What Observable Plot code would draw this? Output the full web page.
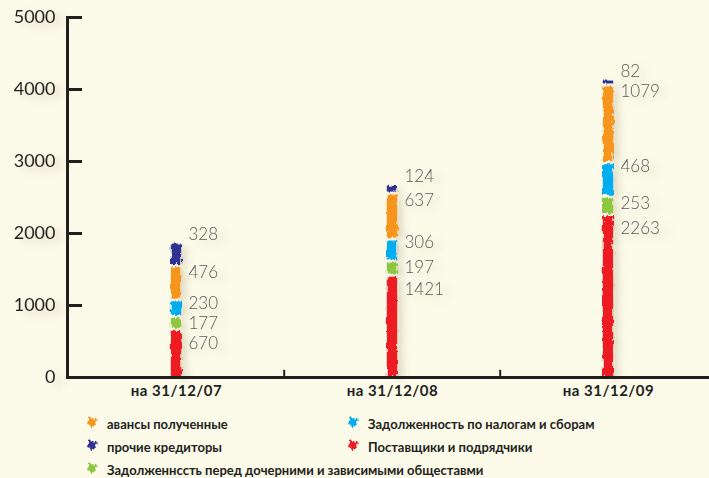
<!DOCTYPE html>
<html><head><meta charset="utf-8">
<script src="https://cdn.jsdelivr.net/npm/d3@7"></script>
<script src="https://cdn.jsdelivr.net/npm/@observablehq/plot@0.6"></script>
<style>
html,body{margin:0;padding:0;background:#fcfae9;}
#wrap{position:relative;width:709px;height:478px;overflow:hidden;font-family:Lato,"Open Sans",sans-serif;background:#fcfae9;}
#chart svg{display:block;overflow:hidden;}
#chart g[aria-label="bar"]{filter:url(#brush) drop-shadow(6px 3px 3px rgba(120,110,70,.35));}
#chart g[aria-label="text"], #chart g[aria-label="y-axis tick label"]{filter:drop-shadow(8px 4px 4px rgba(120,110,70,.28));}
#chart g[aria-label="x-axis tick label"] text{letter-spacing:0.5px;}
#legend{position:absolute;left:86px;top:412px;display:grid;grid-template-columns:261px 261px;grid-auto-rows:23px;font-size:13px;font-weight:700;color:#231f20;}
#legend .it{display:flex;align-items:center;white-space:nowrap;}
#legend .it svg{width:12px;height:14px;margin-right:9px;flex:none;filter:url(#brush);}
#legend .wide{grid-column:span 2;}
</style></head><body>
<svg width="0" height="0" style="position:absolute">
<defs>
<filter id="brush" x="-60%" y="-10%" width="220%" height="120%">
<feTurbulence type="fractalNoise" baseFrequency="0.45 0.12" numOctaves="2" seed="4" result="n"/>
<feDisplacementMap in="SourceGraphic" in2="n" scale="5" xChannelSelector="R" yChannelSelector="G"/>
</filter>
</defs>
</svg>
<div id="wrap"><div id="chart"></div><div id="legend"></div></div>
<script>
const categories = ["на 31/12/07", "на 31/12/08", "на 31/12/09"];
const seriesNames = [
  "Поставщики и подрядчики",
  "Задолженнсcть перед дочерними и зависимыми общеставми",
  "Задолженность по налогам и сборам",
  "авансы полученные",
  "прочие кредиторы"
];
const suppliers = [670, 1421, 2263];
const subsidiaries = [177, 197, 253];
const taxes = [230, 306, 468];
const advances = [476, 637, 1079];
const others = [328, 124, 82];
const yTicks = [0, 1000, 2000, 3000, 4000, 5000];
const seriesColors = ["#ed1c24", "#8dc63f", "#00aeef", "#f7941d", "#2e3192"];
const labelDy = [14, 7, 4, 7, -8];
const legendOrder = [3, 2, 4, 0, 1];

const seriesValues = [suppliers, subsidiaries, taxes, advances, others];
const rows = [];
categories.forEach((c, ci) => {
  let cum = 0;
  seriesValues.forEach((vals, si) => {
    cum += vals[ci];
    rows.push({cat: c, series: seriesNames[si], value: vals[ci], top: cum});
  });
});

const ink = "#231f20";
const labelMarks = seriesNames.map((s, si) =>
  Plot.text(rows.filter(r => r.series === s), {
    x: "cat", y: "top", text: d => String(d.value),
    dx: 12, dy: labelDy[si], textAnchor: "start",
    fontSize: 17, fill: "#58595b", fontWeight: 300
  })
);

const chart = Plot.plot({
  width: 709, height: 405,
  marginLeft: 67, marginTop: 17, marginBottom: 28, marginRight: 0,
  style: {background: "transparent", fontFamily: "Lato, 'Open Sans', sans-serif", color: ink},
  x: {domain: categories, range: [67, 717], padding: 0, label: null},
  y: {domain: [0, 5000], label: null},
  color: {domain: seriesNames, range: seriesColors},
  marks: [
    Plot.barY(rows, Plot.stackY({
      x: "cat", y: "value", z: "series", fill: "series",
      insetLeft: 102.8, insetRight: 102.8, insetTop: 2, insetBottom: 1
    })),
    ...labelMarks,
    Plot.frame({anchor: "left", stroke: ink, strokeWidth: 3}),
    Plot.ruleY([0], {stroke: ink, strokeWidth: 3}),
    Plot.ruleX(categories.slice(1), {x: d => d, y1: 0, y2: 100, dx: -108.3, stroke: ink, strokeWidth: 2}),
    Plot.axisY(yTicks, {tickSize: -15, fill: "none", stroke: ink, strokeWidth: 3}),
    Plot.axisY(yTicks, {tickSize: 0, tickPadding: 12, fontSize: 18, fill: ink, tickFormat: d => String(d)}),
    Plot.axisX({tickSize: 0, tickPadding: 8, fontSize: 15, fontWeight: 700, fill: ink})
  ]
});
document.getElementById("chart").appendChild(chart);

const legend = document.getElementById("legend");
const iconPath = "M2,1 C5,0 9,1 11,3 L9,6 L10,9 L7,8 L6,13 L4,8 L1,7 L2,4 Z";
legendOrder.forEach(si => {
  const d = document.createElement("div");
  d.className = "it" + (si === 1 ? " wide" : "");
  d.innerHTML = `<svg viewBox="0 0 12 14"><path d="${iconPath}" fill="${seriesColors[si]}"/></svg><span>${seriesNames[si]}</span>`;
  legend.appendChild(d);
});
</script>
</body></html>
